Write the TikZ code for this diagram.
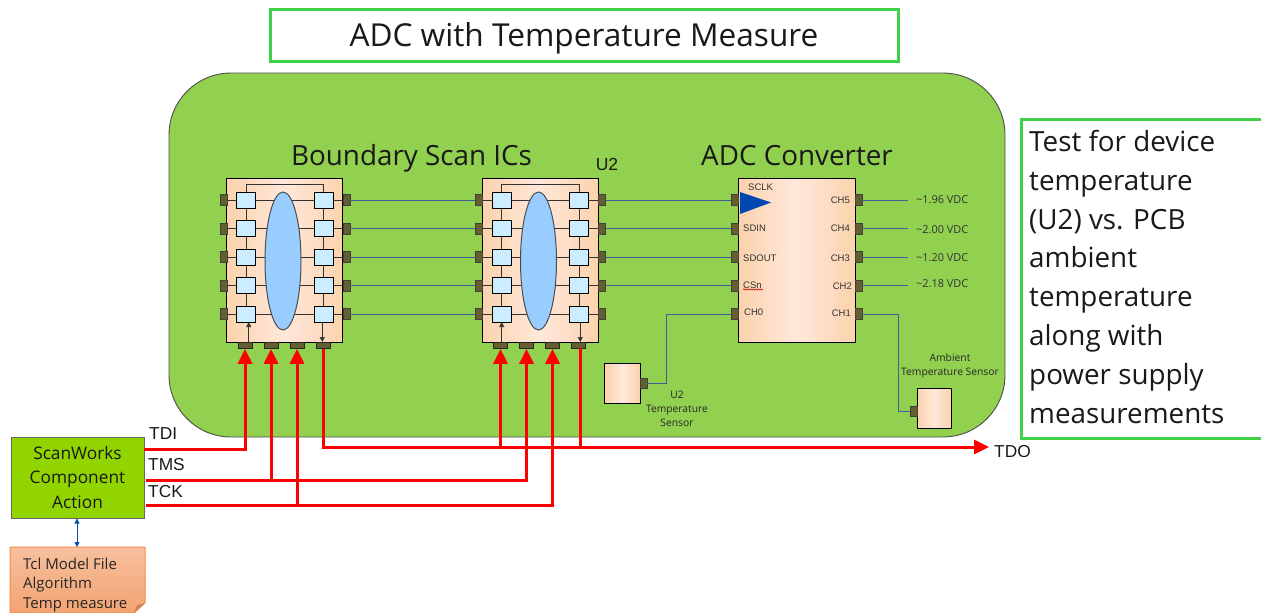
\documentclass[tikz,border=0pt]{standalone}
\usepackage{fontspec}
\setmainfont{Liberation Sans}
\newfontfamily\uifont{Open Sans}
\usetikzlibrary{arrows.meta,shapes.geometric,calc,decorations.pathmorphing}
\definecolor{panelgreen}{HTML}{92D050}
\definecolor{boxgreen}{HTML}{3FD048}
\definecolor{swgreen}{HTML}{92D400}
\definecolor{pinfill}{HTML}{635F2E}
\definecolor{cellblue}{HTML}{CCECFF}
\definecolor{ellblue}{HTML}{99CCFF}
\definecolor{wireblue}{HTML}{3F5F96}
\definecolor{chipedge}{HTML}{FBD2AC}
\definecolor{chipmid}{HTML}{FFE8DB}
\definecolor{redline}{HTML}{FF0000}
\definecolor{tclborder}{HTML}{F08C4E}
\tikzset{
  chipbody/.style={draw=black,line width=0.9pt,left color=chipedge,right color=chipedge,middle color=chipmid,minimum width=#1,inner sep=0pt,anchor=center},
  hpin/.style={draw=black!75,line width=0.7pt,fill=pinfill,minimum width=7pt,minimum height=11pt,inner sep=0pt},
  vpin/.style={draw=black!85,line width=0.7pt,fill=pinfill,minimum width=14pt,minimum height=6pt,inner sep=0pt},
  cell/.style={draw=black,line width=0.8pt,fill=cellblue,minimum width=19pt,minimum height=16pt,inner sep=0pt},
  inner wire/.style={draw=black!80,line width=0.7pt},
  pinwire/.style={draw=wireblue,line width=0.8pt},
  redwire/.style={draw=redline,line width=3pt},
  redarrow/.style={redwire,-{Triangle[width=14pt,length=15pt]}},
  small/.style={font=\fontsize{9.5}{11}\selectfont,text=black!80,inner sep=0pt},
  sensorlabel/.style={font=\uifont\fontsize{10.3}{14.3}\selectfont,text=black!85,align=center,inner sep=0pt},
  vdc/.style={font=\uifont\fontsize{10.9}{12}\selectfont,text=black!80,inner sep=0pt,anchor=west},
  sig/.style={font=\fontsize{17.3}{19}\selectfont,text=black!90,inner sep=0pt,anchor=west},
  heading/.style={font=\uifont\fontsize{27.8}{30}\selectfont,text=black!90,inner sep=0pt,anchor=base},
}
\newcommand{\scanchip}[4]{%
  % #1 = name prefix, #2 = x offset, #3/#4 = x of the up and down arrows
  \node[chipbody=116pt,minimum height=164pt] (#1body) at (#2+284.5,260) {};
  \draw[inner wire] (#2+246,200) -- (#2+246,184.5) -- (#2+323.5,184.5) -- (#2+323.5,200);
  \draw[inner wire] (#2+246,200) -- (#2+246,314);
  \draw[inner wire] (#2+323.5,200) -- (#2+323.5,314);
  \foreach \r/\yy in {1/200,2/228.5,3/257,4/285.5,5/314}{
    \node[hpin] (#1L\r) at (#2+223.5,\yy) {};
    \node[hpin] (#1R\r) at (#2+346.5,\yy) {};
    \draw[inner wire] (#1L\r.east) -- (#1R\r.west);
    \node[cell] (#1A\r) at (#2+246,\yy) {};
    \node[cell] (#1C\r) at (#2+323.5,\yy) {};
  }
  \node[ellipse,draw=black!70,line width=1pt,fill=ellblue,minimum width=36pt,minimum height=138pt,inner sep=0pt] (#1ell) at (#2+283,261) {};
  \foreach \p/\xx in {1/245,2/271,3/297,4/323}{
    \node[vpin] (#1B\p) at (#2+\xx,345.5) {};
  }
  \draw[inner wire,-{Triangle[width=5pt,length=5pt]}] (#3,342) -- (#3,322);
  \draw[inner wire,-{Triangle[width=5pt,length=5pt]}] (#4,322) -- (#4,342);
}
\begin{document}
\begin{tikzpicture}[x=1pt,y=-1pt]
\useasboundingbox (0,0) rectangle (1261,613);
\clip (0,0) rectangle (1261,613);
% title and side note
\node[draw=boxgreen,line width=3pt,fill=white,minimum width=628pt,minimum height=52pt,inner sep=0pt] (title) at (584.5,35) {};
\node[font=\uifont\fontsize{31.6}{34}\selectfont,text=black!90,inner sep=0pt,anchor=base] (titletext) at (584,46) {ADC with Temperature Measure};
\node[draw=boxgreen,line width=3pt,fill=white,minimum width=260pt,minimum height=319pt,inner sep=0pt] (note) at (1151,278.5) {};
\node[anchor=north west,inner sep=0pt,align=left,font=\uifont\fontsize{27.8}{38.8}\selectfont,text=black!90] (notetext) at (1029,130) {Test for device\\temperature\\(U2) vs. PCB\\ambient\\temperature\\along with\\power supply\\measurements};
% board
\node[draw=black!70,line width=0.9pt,fill=panelgreen,rounded corners=62pt,minimum width=836pt,minimum height=364pt,inner sep=0pt] (board) at (587,255) {};
\node[heading] (hbs) at (411.5,165) {Boundary Scan ICs};
\node[heading] (hadc) at (797,165) {ADC Converter};
\node[font=\fontsize{17.5}{19}\selectfont,text=black!90,inner sep=0pt] (u2) at (607,164) {U2};
% chips
\scanchip{a}{0}{248.7}{322.3}
\scanchip{b}{255.5}{501.7}{580.3}
% ADC
\node[chipbody=117pt,minimum height=164pt] (adc) at (796.5,260) {};
\foreach \r/\yy in {1/200,2/228.5,3/257,4/285.5,5/314}{
  \node[hpin] (dL\r) at (734.5,\yy) {};
  \node[hpin] (dR\r) at (858.5,\yy) {};
  \draw[pinwire] (aR\r) -- (bL\r);
}
\foreach \r in {1,2,3,4}{
  \draw[pinwire] (bR\r) -- (dL\r);
}
\fill[fill=blue!60!cyan!70!black] (740,192) -- (771,202.5) -- (740,214) -- cycle;
\node[small,anchor=west] (lsclk) at (748,187) {SCLK};
\node[small,anchor=west] (lsdin) at (743,228) {SDIN};
\node[small,anchor=west] (lsdout) at (743,258) {SDOUT};
\node[small,anchor=west] (lcsn) at (743,285) {CSn};
\node[small,anchor=west] (lch0) at (744,312) {CH0};
\node[small,anchor=east] (lch5) at (850,200) {CH5};
\node[small,anchor=east] (lch4) at (850,228) {CH4};
\node[small,anchor=east] (lch3) at (850,258) {CH3};
\node[small,anchor=east] (lch2) at (852,286) {CH2};
\node[small,anchor=east] (lch1) at (851,313) {CH1};
\draw[red!80!black,line width=0.5pt,decorate,decoration={zigzag,amplitude=0.6pt,segment length=2.5pt}] (lcsn.south west) ++(0,1) -- ++(20,0);
% voltage outputs
\coordinate (v5) at (908,200);
\coordinate (v4) at (908,228.5);
\coordinate (v3) at (908,257);
\coordinate (v2) at (908,285.5);
\draw[pinwire] (dR1) -- (v5);
\draw[pinwire] (dR2) -- (v4);
\draw[pinwire] (dR3) -- (v3);
\draw[pinwire] (dR4) -- (v2);
\node[vdc] (t5) at (916,200) {\textasciitilde 1.96 VDC};
\node[vdc] (t4) at (916,229.5) {\textasciitilde 2.00 VDC};
\node[vdc] (t3) at (916,258) {\textasciitilde 1.20 VDC};
\node[vdc] (t2) at (916,284) {\textasciitilde 2.18 VDC};
% sensors
\node[chipbody=35.5pt,minimum height=40pt] (su2) at (622.5,383) {};
\node[hpin,minimum height=10pt] (su2p) at (643.5,383) {};
\node[chipbody=34pt,minimum height=40pt] (sam) at (934,408) {};
\node[hpin,minimum height=10pt] (samp) at (913.5,411) {};
\draw[pinwire] (su2p.east) -| (666,314) -- (dL5.west);
\draw[pinwire] (dR5.east) -| (898.5,411) -- (samp.west);
\node[sensorlabel] (lsu2) at (677,409) {U2\\Temperature\\Sensor};
\node[sensorlabel] (lsam) at (950,365.5) {Ambient\\Temperature Sensor};
% scanworks
\node[draw=black!60,line width=1pt,fill=swgreen,minimum width=133pt,minimum height=81pt,inner sep=0pt,align=center,font=\uifont\fontsize{17.3}{24.5}\selectfont,text=black!90] (sw) at (77.5,477.5) {ScanWorks\\Component\\Action};
\draw[tclborder,line width=1pt,top color=tclborder!55!white,bottom color=tclborder!80!white] (10,547) -- (145,547) -- (145,603) -- (134,613) -- (10,613) -- cycle;
\fill[tclborder!85!black!90] (134,613) -- (137,605) -- (145,603) -- cycle;
\node[anchor=north west,inner sep=0pt,align=left,font=\uifont\fontsize{15}{19.7}\selectfont,text=black!85] (tcl) at (23,557.5) {Tcl Model File\\Algorithm\\Temp measure};
\coordinate (tcltop) at (77,547);
\draw[draw=blue!55!cyan!70!black,line width=0.8pt,{Triangle[width=5pt,length=5pt]}-{Triangle[width=5pt,length=5pt]}] (sw.south -| tcltop) -- (tcltop);
% red scan chain
\coordinate (tdiS) at (144,449);
\coordinate (tmsS) at (146,480);
\coordinate (tckS) at (146,505);
\coordinate (tdoE) at (989,447);
\coordinate (tdoB) at (580.3,348);
\draw[redarrow] (tdiS) -| (aB1.south);
\draw[redarrow] (tmsS) -| (bB2.south);
\draw[redarrow] (aB2.south |- tmsS) -- (aB2.south);
\draw[redarrow] (tckS) -| (bB3.south);
\draw[redarrow] (aB3.south |- tckS) -- (aB3.south);
\draw[redarrow] (aB4.south) |- (tdoE);
\draw[redarrow] (bB1.south |- tdoE) -- (bB1.south);
\draw[redwire] (tdoB) -- (tdoB |- tdoE);
\node[sig] (ltdi) at (149,434) {TDI};
\node[sig] (ltms) at (148,465) {TMS};
\node[sig] (ltck) at (148,492) {TCK};
\node[sig] (ltdo) at (994,452) {TDO};
\end{tikzpicture}
\end{document}
